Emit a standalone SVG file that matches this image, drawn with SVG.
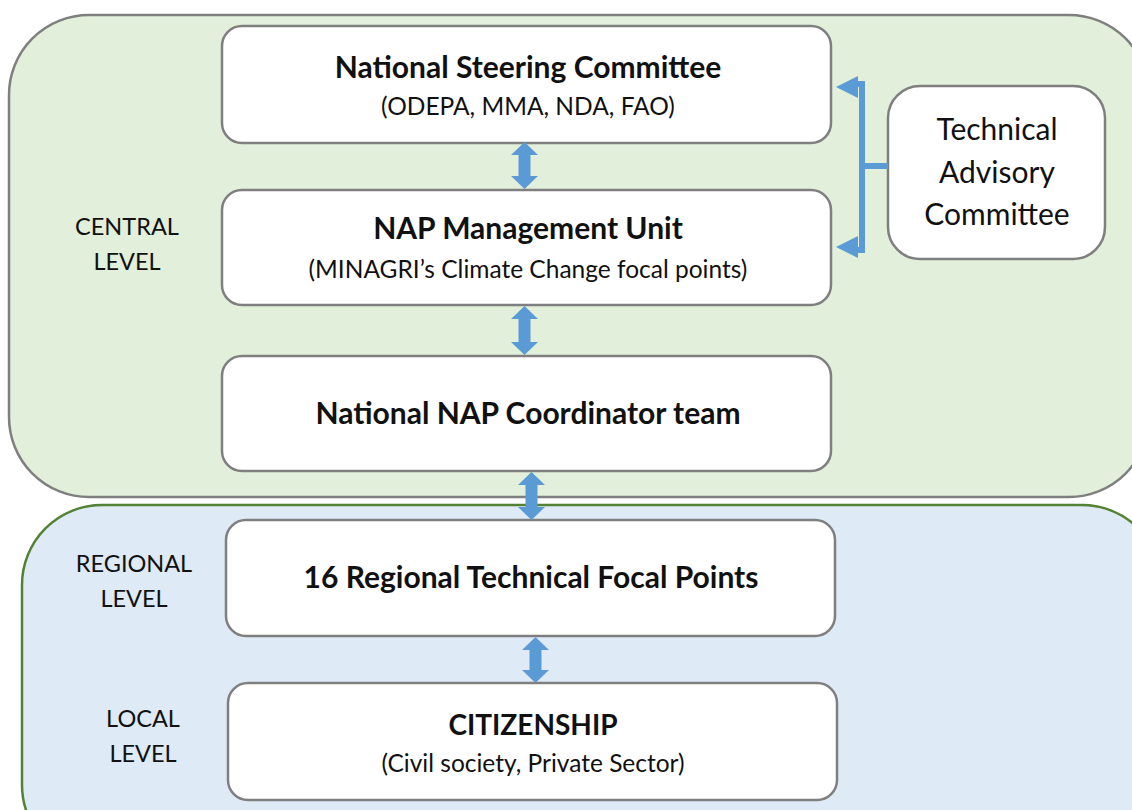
<svg xmlns="http://www.w3.org/2000/svg" width="1132" height="810" viewBox="0 0 1132 810">
<style>
.box{fill:#fff;stroke:#7f7f7f;stroke-width:2.5}
.t{font-family:Lato,"Noto Sans",sans-serif;fill:#111;text-anchor:middle}
.b{font-weight:bold;font-size:30px}
.s{font-size:24.5px}
.lv{font-size:23.5px}
.ta{font-size:30px}
.arr{fill:#5b9bd5}
</style>
<rect width="1132" height="810" fill="#fff"/>
<g id="central">
<rect x="9" y="15" width="1140" height="482" rx="80" fill="#e2efda" stroke="#7f7f7f" stroke-width="2.5"/>
<text class="t lv" x="127" y="235">CENTRAL</text>
<text class="t lv" x="127" y="270">LEVEL</text>
</g>
<g id="regional-local">
<rect x="22" y="505" width="1140" height="360" rx="80" fill="#deeaf6" stroke="#548235" stroke-width="2.5"/>
<text class="t lv" x="134" y="572">REGIONAL</text>
<text class="t lv" x="134" y="607">LEVEL</text>
<text class="t lv" x="143" y="727">LOCAL</text>
<text class="t lv" x="143" y="762">LEVEL</text>
</g>
<g id="steering">
<rect class="box" x="222" y="26" width="609" height="117" rx="20"/>
<text class="t b" x="528" y="78">National Steering Committee</text>
<text class="t s" x="528" y="115">(ODEPA, MMA, NDA, FAO)</text>
</g>
<g id="management">
<rect class="box" x="222" y="190" width="609" height="115" rx="20"/>
<text class="t b" x="528" y="239">NAP Management Unit</text>
<text class="t s" x="528" y="278">(MINAGRI’s Climate Change focal points)</text>
</g>
<g id="coordinator">
<rect class="box" x="222" y="356" width="609" height="115" rx="20"/>
<text class="t b" x="528" y="424">National NAP Coordinator team</text>
</g>
<g id="regional">
<rect class="box" x="226" y="520" width="609" height="116" rx="20"/>
<text class="t b" x="531" y="588">16 Regional Technical Focal Points</text>
</g>
<g id="citizenship">
<rect class="box" x="228" y="683" width="609" height="117" rx="20"/>
<text class="t b" x="533" y="735" style="font-size:28px">CITIZENSHIP</text>
<text class="t s" x="533" y="772">(Civil society, Private Sector)</text>
</g>
<g id="advisory">
<rect class="box" x="888" y="86" width="217" height="173" rx="32"/>
<text class="t ta" x="997" y="140">Technical</text>
<text class="t ta" x="997" y="183">Advisory</text>
<text class="t ta" x="997" y="225">Committee</text>
</g>
<g id="connectors">
<path class="arr" d="M524.5 142 l13.5 13 h-7.5 v21 h7.5 l-13.5 13 l-13.5 -13 h7.5 v-21 h-7.5 z"/>
<path class="arr" d="M524.5 306 l13.5 13 h-7.5 v23 h7.5 l-13.5 13 l-13.5 -13 h7.5 v-23 h-7.5 z"/>
<path class="arr" d="M531.5 472 l13.5 13 h-7.5 v22 h7.5 l-13.5 13 l-13.5 -13 h7.5 v-22 h-7.5 z"/>
<path class="arr" d="M535.5 637 l13.5 13 h-7.5 v20 h7.5 l-13.5 13 l-13.5 -13 h7.5 v-20 h-7.5 z"/>
<path d="M888 166 H862 M862 84 V250 M856 84 H865 M856 250 H865" stroke="#5b9bd5" stroke-width="6" fill="none"/>
<path class="arr" d="M836 87 L858 76 V98 Z"/>
<path class="arr" d="M836 247 L858 236 V258 Z"/>
</g>
</svg>
